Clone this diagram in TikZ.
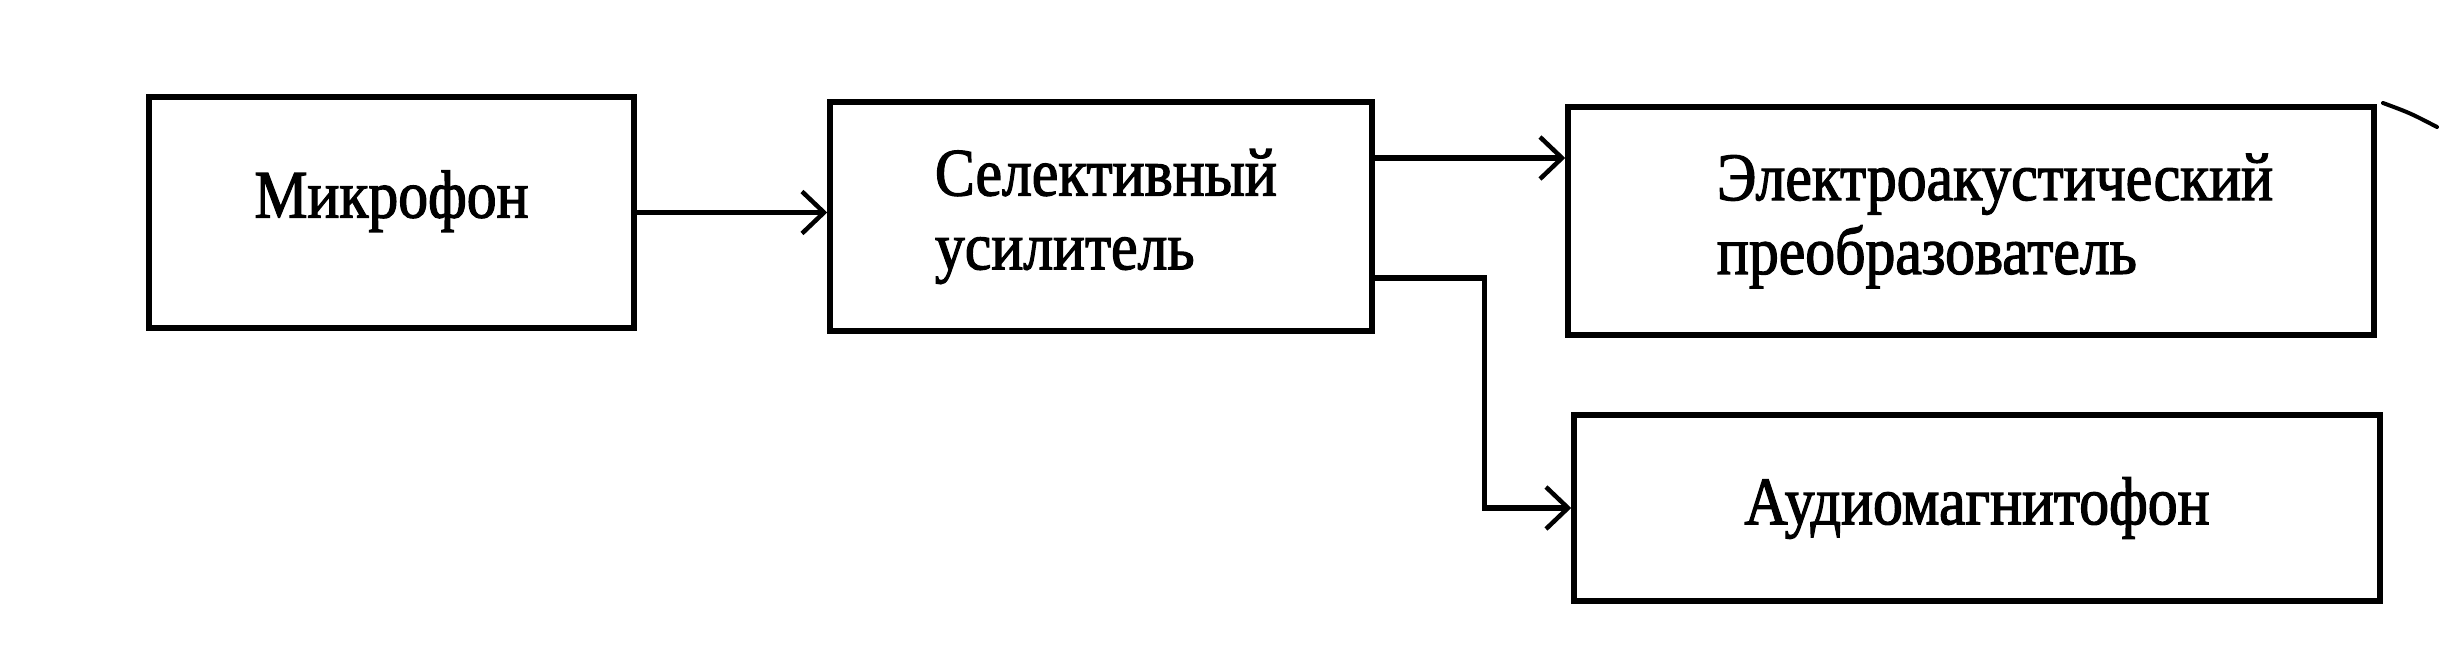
\documentclass[tikz,border=0pt]{standalone}
\usepackage{fontspec}
\setmainfont{Liberation Serif}[FakeStretch=0.88,FakeBold=1.8]
\usetikzlibrary{arrows.meta,calc}

\tikzset{
	blok/.style={draw, line width=0.055cm, inner sep=0pt, font=\fontsize{19.3}{21}\selectfont},
	strelka/.style={line width=0.055cm, -{Straight Barb[length=0.22cm,width=0.42cm,line width=0.045cm]}},
}

\begin{document}
\begin{tikzpicture}
		%%%%% START %%%%%
		
		\useasboundingbox (0, 0) rectangle (24.55, -6.47);
		
		\node[blok, minimum width=4.85cm, minimum height=2.31cm, text depth=0.37cm] (mikrofon) at (3.915, -2.125) {Микрофон};
		\node[blok, minimum width=5.42cm, minimum height=2.29cm, text width=3.32cm, align=left] (selektor) at (11.01, -2.165) {Селективный\\усилитель};
		\node[blok, minimum width=8.06cm, minimum height=2.28cm, text width=5.08cm, align=left] (preobr) at (19.71, -2.21) {Электроакустический\\преобразователь};
		\node[blok, minimum width=8.06cm, minimum height=1.86cm] (magnit) at (19.77, -5.08) {Аудиомагнитофон};
		
		\coordinate (s1) at ([yshift=0.585cm]selektor.east);
		\coordinate (s2) at ([yshift=-0.615cm]selektor.east);
		\coordinate (uzel) at ([xshift=-0.87cm]magnit.west);
		
		\draw[strelka] (mikrofon.east) -- (mikrofon.east -| selektor.west);
		\draw[strelka] (s1) -- (s1 -| preobr.west);
		\draw[strelka] (s2) -| (uzel) -- (magnit.west);
		
		\draw[line width=0.04cm, line cap=round] (23.83, -1.03) .. controls (24.1, -1.13) .. (24.37, -1.27);
		
		%%%%% END %%%%%
	\end{tikzpicture}
\end{document}
